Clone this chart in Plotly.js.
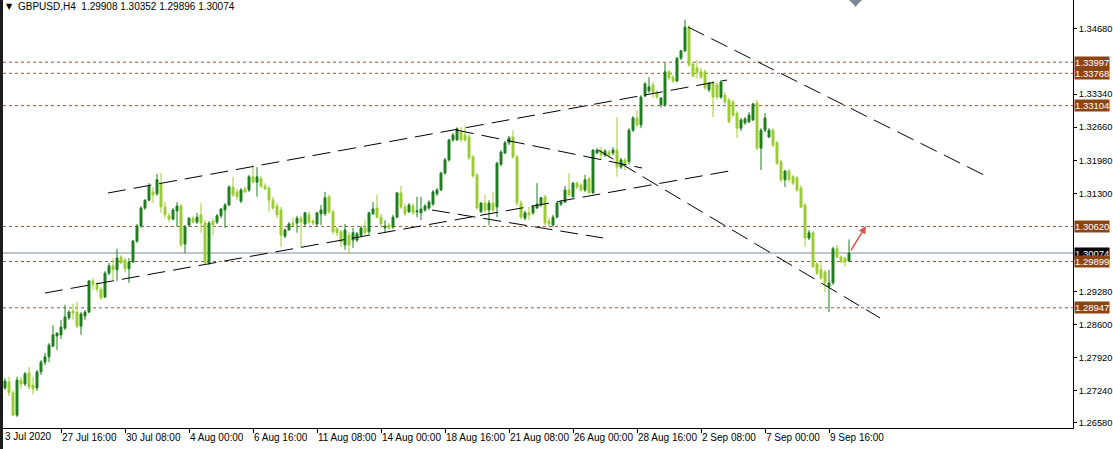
<!DOCTYPE html>
<html><head><meta charset="utf-8">
<script src="https://cdn.plot.ly/plotly-3.0.1.min.js"></script>
<style>
html,body{margin:0;padding:0;background:#fff;overflow:hidden;}
#edge{position:absolute;left:0;top:0;width:3px;height:449px;background:#1b1b1b;}
#chart{position:absolute;left:3px;top:0;width:1110px;height:449px;}
</style></head><body>
<div id="edge"></div><div id="chart"></div>
<script>
// H4 bars, 23 Jul 2020 08:00 .. 10 Sep 2020 12:00 (bar index)
const openP = [1.2730,1.2742,1.2720,1.2674,1.2746,1.2738,1.2761,1.2736,1.2730,1.2763,
1.2783,1.2794,1.2816,1.2837,1.2839,1.2853,1.2874,1.2888,1.2886,1.2857,
1.2878,1.2886,1.2950,1.2942,1.2933,1.2917,1.2966,1.2981,1.2973,1.2999,
1.2993,1.2975,1.2989,1.3032,1.3063,1.3100,1.3116,1.3133,1.3129,1.3149,
1.3102,1.3084,1.3077,1.3094,1.3104,1.3026,1.3065,1.3079,1.3071,1.3086,
1.3069,1.2987,1.3073,1.3071,1.3084,1.3096,1.3106,1.3143,1.3133,1.3114,
1.3139,1.3137,1.3164,1.3153,1.3160,1.3145,1.3141,1.3116,1.3104,1.3096,
1.3042,1.3055,1.3069,1.3069,1.3079,1.3067,1.3086,1.3073,1.3067,1.3088,
1.3088,1.3123,1.3092,1.3057,1.3051,1.3024,1.3044,1.3034,1.3034,1.3044,
1.3059,1.3051,1.3088,1.3100,1.3081,1.3059,1.3065,1.3061,1.3081,1.3131,
1.3102,1.3092,1.3104,1.3092,1.3090,1.3096,1.3100,1.3108,1.3129,1.3137,
1.3172,1.3199,1.3240,1.3240,1.3256,1.3250,1.3246,1.3205,1.3168,1.3092,
1.3110,1.3096,1.3110,1.3102,1.3190,1.3213,1.3234,1.3246,1.3205,1.3110,
1.3079,1.3090,1.3090,1.3100,1.3106,1.3123,1.3073,1.3065,1.3081,1.3108,
1.3112,1.3137,1.3123,1.3151,1.3147,1.3137,1.3160,1.3131,1.3213,1.3219,
1.3209,1.3215,1.3213,1.3219,1.3184,1.3199,1.3195,1.3260,1.3285,1.3271,
1.3330,1.3341,1.3353,1.3338,1.3312,1.3312,1.3380,1.3369,1.3361,1.3408,
1.3423,1.3470,1.3396,1.3388,1.3380,1.3380,1.3343,1.3357,1.3353,1.3328,
1.3332,1.3322,1.3318,1.3295,1.3264,1.3275,1.3277,1.3281,1.3316,1.3223,
1.3260,1.3246,1.3260,1.3234,1.3195,1.3158,1.3176,1.3164,1.3162,1.3141,
1.3106,1.3038,1.3049,1.2985,1.2973,1.2968,1.2938,1.2946,1.3016,1.2999,
1.2997,1.29908];
const highP = [1.2750,1.2753,1.2726,1.2753,1.2753,1.2763,1.2773,1.2753,1.2767,1.2787,
1.2802,1.2822,1.2859,1.2843,1.2870,1.2901,1.2890,1.2903,1.2907,1.2886,
1.2890,1.2952,1.2956,1.2948,1.2938,1.2970,1.2987,1.2997,1.3016,1.3003,
1.2997,1.2997,1.3034,1.3067,1.3104,1.3118,1.3151,1.3143,1.3170,1.3172,
1.3112,1.3090,1.3100,1.3112,1.3108,1.3065,1.3081,1.3084,1.3090,1.3110,
1.3075,1.3073,1.3079,1.3088,1.3100,1.3110,1.3147,1.3164,1.3139,1.3141,
1.3145,1.3168,1.3188,1.3184,1.3166,1.3151,1.3145,1.3123,1.3110,1.3102,
1.3057,1.3071,1.3081,1.3084,1.3084,1.3092,1.3092,1.3077,1.3092,1.3106,
1.3133,1.3127,1.3096,1.3061,1.3055,1.3067,1.3051,1.3059,1.3051,1.3063,
1.3075,1.3092,1.3112,1.3127,1.3088,1.3075,1.3069,1.3086,1.3133,1.3145,
1.3108,1.3110,1.3110,1.3123,1.3123,1.3108,1.3116,1.3137,1.3141,1.3174,
1.3203,1.3242,1.3254,1.3266,1.3266,1.3269,1.3252,1.3209,1.3172,1.3112,
1.3127,1.3116,1.3133,1.3195,1.3219,1.3238,1.3248,1.3260,1.3209,1.3116,
1.3094,1.3102,1.3106,1.3151,1.3123,1.3127,1.3079,1.3086,1.3112,1.3116,
1.3145,1.3172,1.3153,1.3155,1.3151,1.3168,1.3164,1.3221,1.3223,1.3225,
1.3221,1.3219,1.3225,1.3287,1.3203,1.3203,1.3264,1.3289,1.3301,1.3332,
1.3359,1.3369,1.3359,1.3343,1.3328,1.3398,1.3384,1.3373,1.3410,1.3425,
1.3487,1.3476,1.3400,1.3404,1.3388,1.3384,1.3359,1.3361,1.3357,1.3363,
1.3338,1.3326,1.3322,1.3299,1.3285,1.3287,1.3297,1.3316,1.3322,1.3264,
1.3295,1.3264,1.3264,1.3238,1.3199,1.3178,1.3180,1.3168,1.3166,1.3147,
1.3110,1.3055,1.3053,1.2989,1.2987,1.2973,1.2973,1.3020,1.3024,1.3003,
1.2999,1.30352];
const lowP = [1.2726,1.2713,1.2672,1.2670,1.2728,1.2734,1.2726,1.2716,1.2724,1.2757,
1.2777,1.2783,1.2814,1.2808,1.2831,1.2849,1.2870,1.2870,1.2853,1.2839,
1.2870,1.2884,1.2931,1.2927,1.2911,1.2915,1.2962,1.2952,1.2950,1.2985,
1.2968,1.2946,1.2987,1.3028,1.3059,1.3096,1.3114,1.3110,1.3125,1.3090,
1.3079,1.3071,1.3075,1.3061,1.3020,1.3007,1.3061,1.3069,1.3067,1.3049,
1.2985,1.2983,1.3044,1.3067,1.3079,1.3059,1.3104,1.3123,1.3116,1.3110,
1.3131,1.3133,1.3151,1.3123,1.3141,1.3137,1.3092,1.3096,1.3079,1.3020,
1.3038,1.3053,1.3063,1.3049,1.3020,1.3063,1.3067,1.3065,1.3063,1.3065,
1.3084,1.3088,1.3046,1.3042,1.3020,1.3014,1.3007,1.3018,1.3030,1.3040,
1.3046,1.3046,1.3086,1.3079,1.3063,1.3049,1.3055,1.3057,1.3079,1.3098,
1.3084,1.3090,1.3086,1.3081,1.3075,1.3092,1.3096,1.3104,1.3125,1.3135,
1.3168,1.3195,1.3236,1.3238,1.3236,1.3236,1.3199,1.3162,1.3096,1.3090,
1.3090,1.3065,1.3092,1.3081,1.3186,1.3211,1.3229,1.3201,1.3104,1.3077,
1.3075,1.3075,1.3086,1.3098,1.3102,1.3065,1.3063,1.3061,1.3079,1.3104,
1.3110,1.3123,1.3121,1.3139,1.3133,1.3133,1.3129,1.3129,1.3211,1.3199,
1.3205,1.3203,1.3209,1.3164,1.3180,1.3178,1.3190,1.3256,1.3266,1.3264,
1.3328,1.3336,1.3326,1.3324,1.3306,1.3308,1.3363,1.3357,1.3359,1.3404,
1.3421,1.3390,1.3369,1.3367,1.3365,1.3343,1.3338,1.3287,1.3324,1.3324,
1.3314,1.3275,1.3287,1.3244,1.3258,1.3271,1.3275,1.3279,1.3219,1.3178,
1.3256,1.3244,1.3225,1.3188,1.3153,1.3143,1.3153,1.3147,1.3133,1.3100,
1.3020,1.3034,1.2977,1.2962,1.2952,1.2927,1.2886,1.2942,1.2997,1.2987,
1.2979,1.29896];
const closeP = [1.2744,1.2720,1.2674,1.2746,1.2738,1.2759,1.2732,1.2728,1.2763,1.2783,
1.2794,1.2818,1.2839,1.2843,1.2855,1.2876,1.2886,1.2884,1.2857,1.2882,
1.2886,1.2950,1.2942,1.2933,1.2915,1.2966,1.2981,1.2973,1.2997,1.2987,
1.2975,1.2989,1.3032,1.3063,1.3100,1.3116,1.3145,1.3127,1.3158,1.3102,
1.3086,1.3077,1.3096,1.3104,1.3024,1.3061,1.3079,1.3071,1.3081,1.3069,
1.2987,1.3069,1.3065,1.3084,1.3098,1.3106,1.3143,1.3127,1.3123,1.3137,
1.3133,1.3164,1.3153,1.3164,1.3145,1.3139,1.3116,1.3100,1.3086,1.3044,
1.3055,1.3067,1.3065,1.3079,1.3071,1.3090,1.3071,1.3069,1.3090,1.3096,
1.3121,1.3092,1.3051,1.3049,1.3030,1.3055,1.3024,1.3049,1.3047,1.3059,
1.3049,1.3090,1.3098,1.3081,1.3067,1.3063,1.3059,1.3081,1.3131,1.3102,
1.3088,1.3106,1.3090,1.3094,1.3098,1.3104,1.3112,1.3133,1.3137,1.3172,
1.3199,1.3240,1.3250,1.3262,1.3240,1.3240,1.3203,1.3166,1.3100,1.3110,
1.3096,1.3110,1.3096,1.3192,1.3215,1.3234,1.3244,1.3205,1.3110,1.3081,
1.3090,1.3086,1.3102,1.3108,1.3121,1.3069,1.3067,1.3081,1.3110,1.3112,
1.3137,1.3127,1.3151,1.3143,1.3137,1.3158,1.3131,1.3219,1.3219,1.3209,
1.3217,1.3209,1.3219,1.3184,1.3199,1.3192,1.3260,1.3285,1.3271,1.3328,
1.3355,1.3349,1.3336,1.3328,1.3326,1.3380,1.3367,1.3361,1.3408,1.3423,
1.3472,1.3394,1.3371,1.3378,1.3369,1.3347,1.3357,1.3328,1.3328,1.3359,
1.3318,1.3277,1.3291,1.3264,1.3281,1.3283,1.3291,1.3314,1.3223,1.3260,
1.3285,1.3260,1.3229,1.3192,1.3158,1.3176,1.3158,1.3151,1.3137,1.3102,
1.3038,1.3049,1.2979,1.2966,1.2956,1.2946,1.2946,1.3016,1.2999,1.2989,
1.2989,1.30074];

const tickBars = [14,30,46,62,78,94,110,126,142,158,174,190,206];
const tickLabels = ["27 Jul 16:00","30 Jul 08:00","4 Aug 00:00","6 Aug 16:00","11 Aug 08:00","14 Aug 00:00","18 Aug 16:00","21 Aug 08:00","26 Aug 00:00","28 Aug 16:00","2 Sep 08:00","7 Sep 00:00","9 Sep 16:00"];
const firstLabel = "3 Jul 2020";
const priceTicks = [1.34680,1.33340,1.32660,1.31980,1.31300,1.29280,1.28600,1.27920,1.27240,1.26580];
const levels = [1.33997,1.33768,1.33104,1.30620,1.29899,1.28947];
const currentPrice = 1.30074;
const titleText = "GBPUSD,H4  1.29908 1.30352 1.29896 1.30074";

// trend lines: [barStart, barEnd], [priceStart, priceEnd]
const upperChannelX = [25.75,180.5],   upperChannelY = [1.31308,1.33631];
const lowerChannelX = [10,182.5],      lowerChannelY = [1.29252,1.31781];
const augDownX = [112.75,159.25],      augDownY = [1.32603,1.31822];
const augLowX = [106.75,149.5],        augLowY = [1.30958,1.30383];
const topDownX = [170.75,246.25],      topDownY = [1.34721,1.31616];
const supportDownX = [148.25,218.75],  supportDownY = [1.32192,1.28738];
const arrowX = [211.25,215.25],        arrowY = [1.30095,1.30629];

const bars = openP.map((_, i) => i);
const UP = '#1f7d1f', DOWN = '#9acd32';
const FONT = 'Liberation Sans, Arial, sans-serif';

const traces = [{
  type:'candlestick', x:bars, open:openP, high:highP, low:lowP, close:closeP,
  increasing:{line:{color:UP,width:1}, fillcolor:UP},
  decreasing:{line:{color:DOWN,width:1}, fillcolor:DOWN},
  whiskerwidth:0, hoverinfo:'skip', showlegend:false
}];
const dash = '18px,8px';
[[upperChannelX,upperChannelY],[lowerChannelX,lowerChannelY],[augDownX,augDownY],
 [augLowX,augLowY],[topDownX,topDownY],[supportDownX,supportDownY]].forEach(([xs,ys])=>{
  traces.push({type:'scatter', mode:'lines', x:xs, y:ys, line:{color:'#000',width:1,dash:dash}, hoverinfo:'skip', showlegend:false});
});

const W = 1070, H = 428;
const px = v => (v-3)/W, py = v => 1 - v/H;

const shapes = levels.map(v => ({type:'line', xref:'paper', yref:'y', x0:0, x1:1, y0:v, y1:v,
  line:{color:'#a0522d', width:1, dash:'3px,3px'}, layer:'below'}));
shapes.push({type:'line', xref:'paper', yref:'y', x0:0, x1:1, y0:currentPrice, y1:currentPrice,
  line:{color:'#7d8a98', width:1}, layer:'below'});
shapes.push({type:'path', xref:'paper', yref:'paper',
  path:`M ${px(849)} ${py(0)} L ${px(862)} ${py(0)} L ${px(858)} ${py(4)} L ${px(855.5)} ${py(7)} L ${px(853)} ${py(4)} Z`,
  fillcolor:'#7d8796', line:{width:0}});

const annotations = [];
annotations.push({xref:'paper', yref:'paper', x:px(4), y:py(7), xanchor:'left', yanchor:'middle',
  text:'▼', showarrow:false, font:{family:'DejaVu Sans', size:8, color:'#000'}});
annotations.push({xref:'paper', yref:'paper', x:px(16), y:py(7), xanchor:'left', yanchor:'middle',
  text:titleText, showarrow:false, font:{family:FONT, size:10, color:'#000'}});
annotations.push({xref:'paper', yref:'paper', x:0, y:py(436), xanchor:'left', yanchor:'middle',
  text:firstLabel, showarrow:false, font:{family:FONT, size:10, color:'#000'}});
annotations.push({xref:'paper', yref:'y', x:1, y:currentPrice, xanchor:'left', yanchor:'middle', xshift:1,
  text:currentPrice.toFixed(5), showarrow:false, bgcolor:'#000', borderpad:0,
  font:{family:FONT, size:9.5, color:'#fff'}});
levels.forEach(v => annotations.push({xref:'paper', yref:'y', x:1, y:v, xanchor:'left', yanchor:'middle', xshift:1,
  text:v.toFixed(5), showarrow:false, bgcolor:'#8b4513', borderpad:0,
  font:{family:FONT, size:9.5, color:'#fff'}}));
annotations.push({xref:'x', yref:'y', axref:'x', ayref:'y', x:arrowX[1], y:arrowY[1], ax:arrowX[0], ay:arrowY[0],
  text:'', showarrow:true, arrowhead:2, arrowsize:1, arrowwidth:1.5, arrowcolor:'#e0504a'});

const layout = {
  width:1110, height:449, margin:{l:0, r:40, t:0, b:21, pad:0},
  paper_bgcolor:'#fff', plot_bgcolor:'#fff', showlegend:false, hovermode:false,
  font:{family:FONT, size:10, color:'#000'},
  xaxis:{range:[-0.5,267], tickmode:'array', tickvals:tickBars, ticktext:tickLabels,
    ticks:'outside', ticklen:4, tickcolor:'#000', showline:true, linecolor:'#000', linewidth:1,
    showgrid:false, zeroline:false, rangeslider:{visible:false}, ticklabelposition:'outside right',
    tickangle:0, ticklabeloverflow:'allow',
    tickfont:{family:FONT, size:10, color:'#000'}, fixedrange:true},
  yaxis:{side:'right', range:[1.26476,1.35276], tickmode:'array', tickvals:priceTicks,
    ticktext:priceTicks.map(v=>v.toFixed(5)), ticks:'outside', ticklen:3, tickcolor:'#000',
    ticklabelstandoff:0,
    showline:true, linecolor:'#000', linewidth:1, showgrid:false, zeroline:false,
    tickfont:{family:FONT, size:9.3, color:'#000'}, fixedrange:true},
  shapes:shapes, annotations:annotations
};
Plotly.newPlot('chart', traces, layout, {displayModeBar:false, staticPlot:true});
</script>
</body></html>
